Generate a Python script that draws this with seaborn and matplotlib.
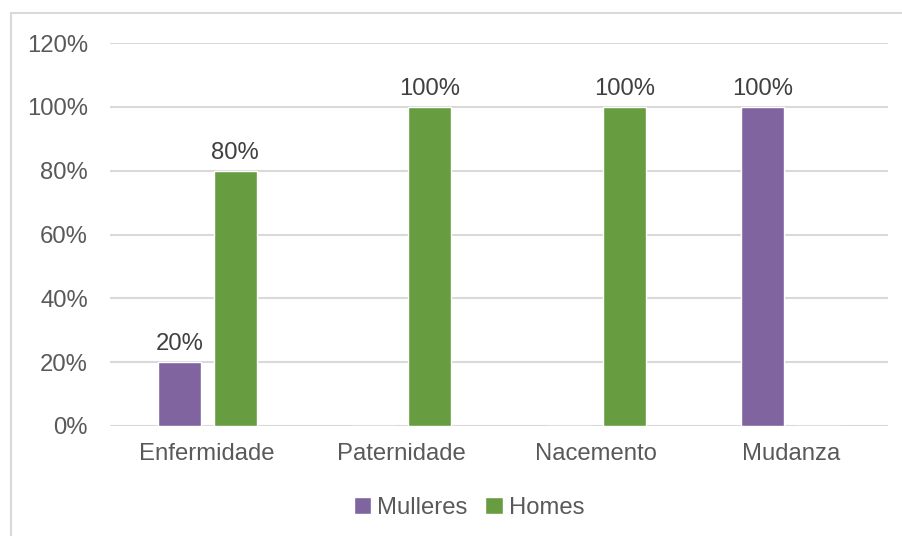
import matplotlib
matplotlib.use("Agg")
import matplotlib.pyplot as plt
import seaborn as sns
import pandas as pd
from matplotlib.patches import Rectangle
from matplotlib.ticker import FuncFormatter

categories = ["Enfermidade", "Paternidade", "Nacemento", "Mudanza"]
mulleres = [20, 0, 0, 100]
homes = [80, 100, 100, 0]
series_names = ["Mulleres", "Homes"]
colors = ["#80649F", "#679D40"]

df = pd.DataFrame({
    "cat": categories * 2,
    "val": mulleres + homes,
    "serie": [series_names[0]] * 4 + [series_names[1]] * 4,
})

sns.set_theme(style="white")
plt.rcParams["font.family"] = ["Liberation Sans", "DejaVu Sans"]
txt = "#595959"
fs = 17.2

fig = plt.figure(figsize=(9.03, 5.36), dpi=100)
ax = fig.add_axes([110 / 903, 1 - 426 / 536, 778 / 903, (426 - 43) / 536])

sns.barplot(data=df, x="cat", y="val", hue="serie", palette=colors,
            width=0.576, gap=0.233, ax=ax, legend=True, saturation=1)

ax.set_ylim(0, 120)
ax.set_xlim(-0.5, 3.5)
ax.set_yticks(range(0, 121, 20))
ax.yaxis.set_major_formatter(FuncFormatter(lambda v, p: f"{int(v)}%"))
ax.grid(axis="y", color="#D9D9D9", lw=1.5)
ax.set_axisbelow(True)
for s in ax.spines.values():
    s.set_visible(False)
ax.set_xlabel("")
ax.set_ylabel("")
ax.tick_params(axis="y", length=0, pad=16, labelsize=fs, labelcolor=txt)
ax.tick_params(axis="x", length=0, pad=12, labelsize=fs, labelcolor=txt)

for cont in ax.containers:
    labels = [f"{int(b.get_height())}%" if b.get_height() > 0 else "" for b in cont]
    ax.bar_label(cont, labels=labels, padding=5, fontsize=fs, color="#404040")

leg = ax.legend(loc="center", ncol=2, frameon=False, fontsize=fs,
                handlelength=0.72, handleheight=0.72, handletextpad=0.25,
                columnspacing=0.75)
for t in leg.get_texts():
    t.set_color(txt)
leg.set_bbox_to_anchor((469 / 903, 1 - 508 / 536), transform=fig.transFigure)

fig.patches.append(Rectangle((11 / 903, -0.1), 1.2, 1 - 13 / 536 + 0.1,
                             transform=fig.transFigure, fill=False,
                             edgecolor="#D9D9D9", lw=1.5))

fig.savefig("out.png", dpi=100)
